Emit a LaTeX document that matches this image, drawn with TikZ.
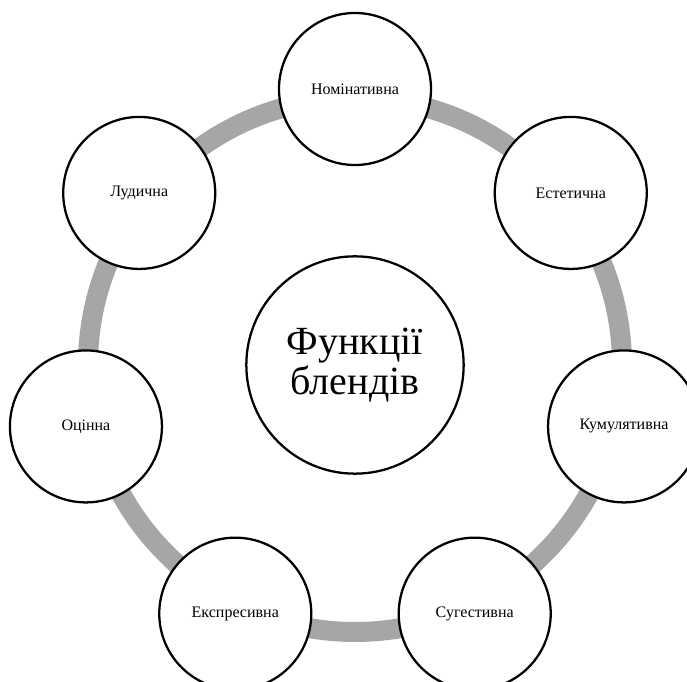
\documentclass[tikz,border=0pt]{standalone}
\usepackage{fontspec}
\setmainfont{Liberation Serif}
\definecolor{ringgray}{RGB}{166,166,166}

\begin{document}
\begin{tikzpicture}[x = 0.75pt, y = 0.75pt,
  func/.style = {circle, draw, line width = 1.7pt, fill = white, minimum size = 114pt, inner sep = 0pt, align = center, font = \fontsize{12}{14}\selectfont},
  hub/.style = {func, minimum size = 163pt, font = \fontsize{30}{30}\selectfont},
  ring/.style = {draw = ringgray, line width = 15pt}]
  \clip (-355,-317) rectangle (332,365);

  % nodes
  \node [hub] (centre) at (0,0) {Функції\\блендів};
  \draw [ring] (centre.center) circle [radius = 267];

  \node [func] (nom) at (90:276) {Номінативна};
  \node [func] (est) at (38.57:276) {Естетична};
  \node [func] (kum) at (-12.86:276) {Кумулятивна};
  \node [func] (sug) at (-64.29:276) {Сугестивна};
  \node [func] (eks) at (-115.71:276) {Експресивна};
  \node [func] (ots) at (-167.14:276) {Оцінна};
  \node [func] (lud) at (141.43:276) {Лудична};
\end{tikzpicture}
\end{document}
